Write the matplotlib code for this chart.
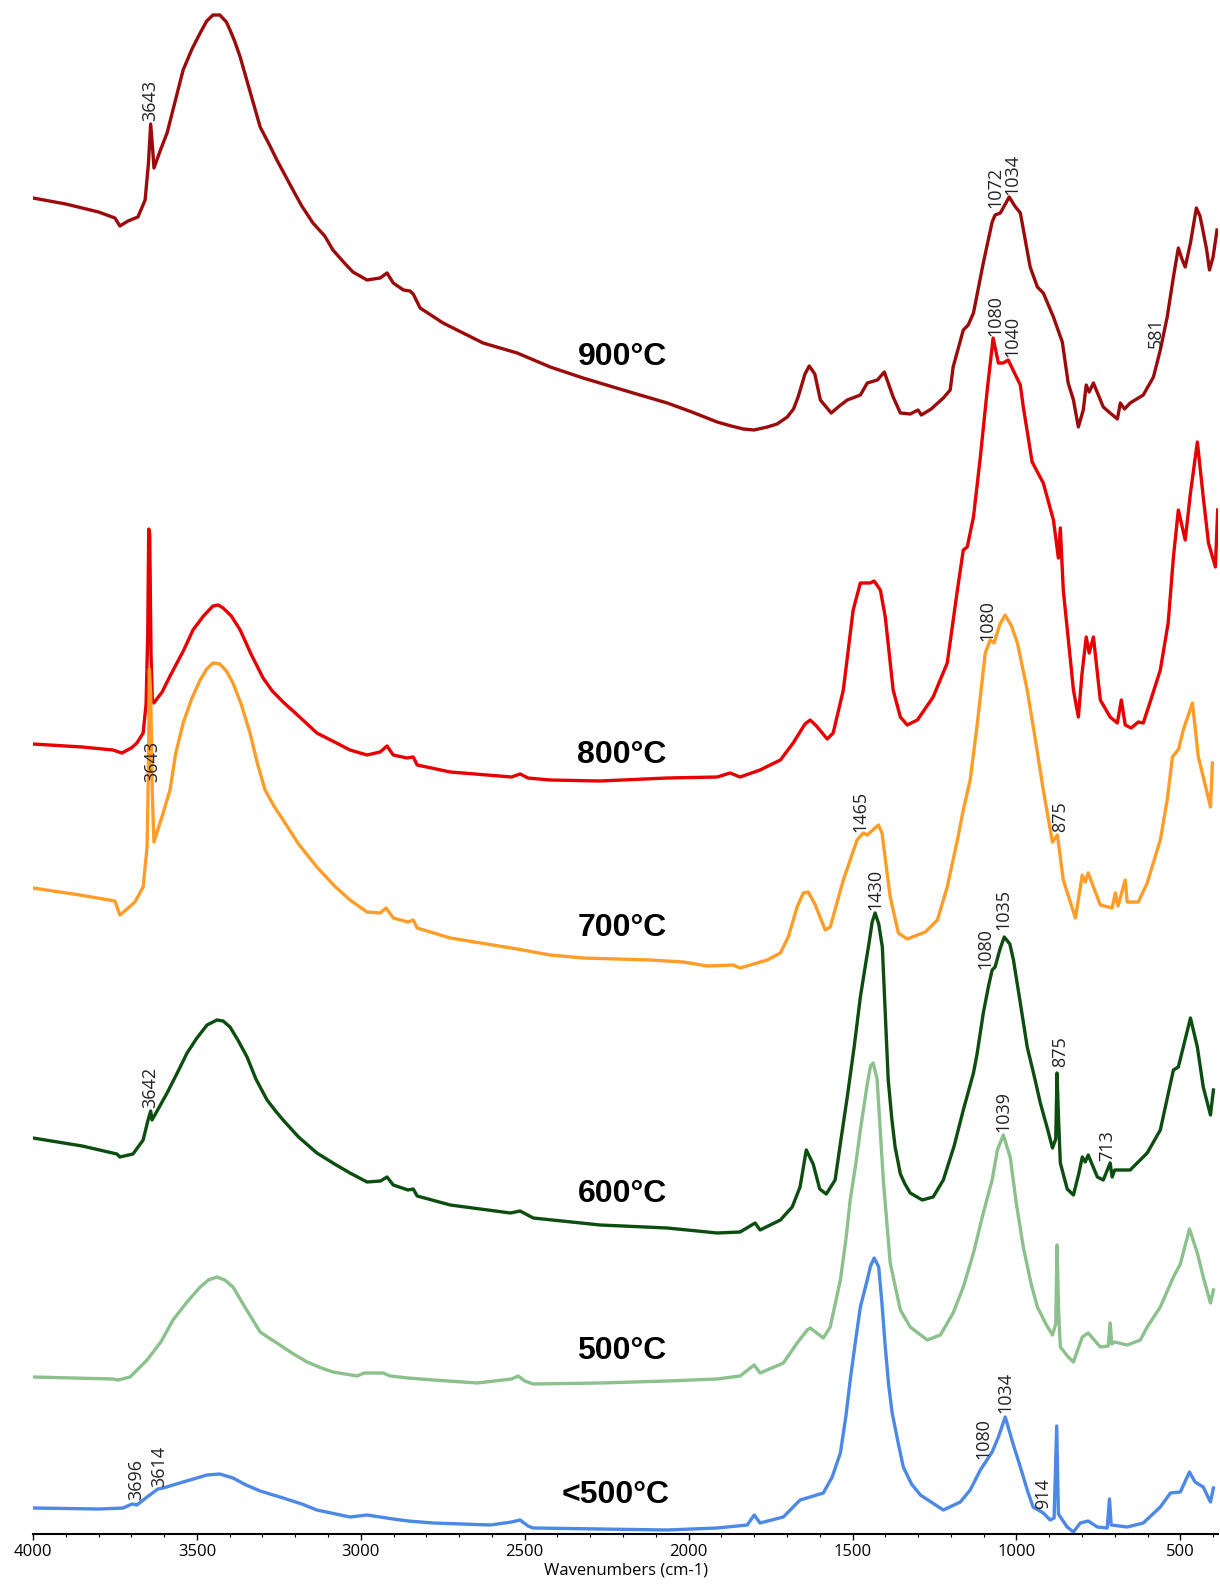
import matplotlib
matplotlib.use("Agg")
import matplotlib.pyplot as plt
from matplotlib.ticker import MultipleLocator

plt.rcParams['font.family'] = ['Open Sans', 'DejaVu Sans']

# spectra: (wavenumber, stacked absorbance in plot units)
spec_900 = [(4000, 1336), (3900, 1330), (3850, 1326), (3800, 1322), (3750, 1316), (3735, 1308), (3710, 1313),
            (3680, 1317), (3658, 1334), (3648, 1370), (3641, 1410), (3635, 1385), (3631, 1366), (3610, 1385),
            (3591, 1401), (3573, 1424), (3542, 1464), (3515, 1485), (3490, 1501), (3470, 1513), (3451, 1519),
            (3430, 1519), (3410, 1512), (3399, 1504), (3385, 1493), (3368, 1477), (3340, 1445), (3307, 1407),
            (3280, 1390), (3256, 1374), (3230, 1358), (3207, 1344), (3180, 1328), (3146, 1311), (3110, 1298),
            (3085, 1284), (3050, 1271), (3024, 1262), (2981, 1254), (2941, 1256), (2920, 1261), (2901, 1251),
            (2870, 1244), (2850, 1243), (2840, 1240), (2819, 1226), (2749, 1211), (2700, 1203), (2627, 1191),
            (2523, 1181), (2422, 1167), (2322, 1156), (2169, 1141), (2065, 1131), (1990, 1122), (1913, 1112),
            (1870, 1108), (1833, 1105), (1800, 1104), (1760, 1107), (1730, 1110), (1699, 1117), (1680, 1125),
            (1666, 1137), (1645, 1160), (1632, 1168), (1615, 1160), (1598, 1134), (1565, 1121), (1540, 1128),
            (1516, 1134), (1476, 1139), (1455, 1151), (1424, 1154), (1403, 1162), (1390, 1150), (1376, 1137),
            (1354, 1121), (1324, 1120), (1300, 1124), (1290, 1119), (1260, 1125), (1223, 1136), (1202, 1144),
            (1193, 1167), (1162, 1204), (1147, 1209), (1131, 1221), (1101, 1271), (1074, 1312), (1065, 1319),
            (1049, 1321), (1022, 1337), (1005, 1328), (988, 1321), (958, 1267), (936, 1247), (918, 1241),
            (887, 1217), (860, 1192), (842, 1151), (826, 1134), (811, 1107), (796, 1124), (787, 1149),
            (778, 1142), (765, 1151), (744, 1134), (735, 1127), (714, 1121), (692, 1115), (683, 1131),
            (670, 1125), (653, 1131), (613, 1139), (582, 1157), (561, 1184), (540, 1217), (521, 1257),
            (506, 1286), (495, 1275), (485, 1267), (469, 1291), (451, 1326), (440, 1318), (433, 1307),
            (420, 1285), (411, 1264), (400, 1277), (388, 1304)]

spec_800 = [(4000, 790), (3850, 787), (3756, 784), (3729, 781), (3700, 786), (3683, 791), (3664, 801),
            (3655, 830), (3650, 900), (3647, 1005), (3644, 1000), (3640, 880), (3636, 835), (3631, 831),
            (3620, 836), (3606, 842), (3585, 856), (3561, 871), (3540, 884), (3512, 904), (3480, 918),
            (3451, 928), (3435, 929), (3420, 926), (3395, 918), (3368, 904), (3335, 880), (3298, 856),
            (3270, 843), (3237, 832), (3190, 818), (3134, 801), (3080, 792), (3033, 784), (2981, 779),
            (2941, 782), (2920, 788), (2901, 779), (2859, 776), (2840, 777), (2828, 769), (2727, 762),
            (2540, 757), (2514, 760), (2490, 756), (2422, 754), (2270, 753), (2065, 756), (1913, 757),
            (1873, 761), (1843, 757), (1782, 764), (1720, 774), (1681, 791), (1645, 810), (1629, 814),
            (1610, 808), (1577, 795), (1559, 801), (1528, 844), (1498, 924), (1476, 951), (1446, 951),
            (1434, 953), (1415, 944), (1400, 917), (1376, 844), (1354, 817), (1333, 809), (1302, 814),
            (1254, 837), (1211, 871), (1180, 944), (1162, 984), (1150, 987), (1131, 1017), (1110, 1077),
            (1089, 1144), (1071, 1196), (1055, 1171), (1040, 1171), (1025, 1174), (988, 1149), (979, 1127),
            (952, 1072), (918, 1051), (887, 1014), (872, 976), (866, 1006), (857, 944), (826, 844), (811, 817),
            (800, 860), (787, 897), (778, 881), (765, 897), (744, 834), (714, 817), (692, 811), (680, 834),
            (668, 809), (650, 806), (628, 812), (613, 811), (592, 832), (561, 864), (537, 911), (521, 977),
            (506, 1024), (485, 994), (469, 1041), (448, 1092), (430, 1037), (414, 991), (393, 967), (386, 1024)]

spec_700 = [(4000, 646), (3857, 639), (3750, 633), (3735, 619), (3713, 625), (3689, 632), (3664, 647),
            (3652, 687), (3648, 760), (3645, 865), (3641, 840), (3636, 740), (3631, 692), (3603, 721),
            (3582, 744), (3565, 780), (3542, 811), (3515, 836), (3490, 854), (3470, 865), (3451, 871),
            (3430, 870), (3410, 863), (3390, 851), (3365, 830), (3338, 801), (3315, 770), (3292, 744),
            (3265, 728), (3237, 714), (3190, 690), (3134, 667), (3080, 648), (3033, 634), (2981, 622),
            (2941, 621), (2923, 626), (2901, 616), (2856, 612), (2840, 614), (2828, 606), (2727, 596),
            (2523, 585), (2422, 579), (2322, 576), (2117, 574), (2016, 572), (1943, 568), (1864, 569),
            (1843, 566), (1760, 574), (1720, 581), (1696, 597), (1669, 627), (1650, 641), (1635, 642),
            (1615, 630), (1583, 604), (1568, 607), (1528, 654), (1486, 694), (1467, 701), (1455, 699),
            (1421, 709), (1410, 701), (1385, 637), (1360, 601), (1333, 595), (1278, 602), (1241, 614),
            (1211, 647), (1180, 694), (1162, 724), (1141, 754), (1119, 811), (1095, 881), (1080, 894),
            (1068, 891), (1050, 910), (1034, 919), (1015, 908), (997, 891), (967, 844), (940, 790), (918, 744),
            (890, 692), (875, 699), (857, 654), (820, 616), (799, 659), (790, 652), (781, 661), (744, 629),
            (708, 626), (698, 641), (690, 628), (668, 654), (662, 632), (628, 632), (601, 651), (561, 694),
            (540, 734), (524, 777), (505, 785), (491, 804), (463, 831), (445, 777), (418, 741), (408, 727),
            (402, 771)]

spec_600 = [(4000, 396), (3850, 388), (3744, 380), (3735, 377), (3695, 380), (3664, 394), (3649, 414),
            (3641, 423), (3637, 414), (3630, 418), (3591, 441), (3560, 461), (3530, 481), (3500, 496),
            (3469, 509), (3439, 514), (3420, 513), (3399, 507), (3375, 494), (3347, 477), (3320, 455),
            (3286, 434), (3260, 423), (3237, 414), (3190, 397), (3134, 381), (3080, 370), (3033, 361),
            (2981, 352), (2940, 353), (2920, 357), (2901, 349), (2856, 344), (2840, 345), (2828, 338),
            (2727, 329), (2544, 321), (2514, 323), (2474, 316), (2270, 309), (2065, 306), (1913, 301),
            (1843, 302), (1797, 311), (1782, 304), (1720, 314), (1684, 327), (1660, 347), (1641, 384),
            (1620, 370), (1600, 345), (1580, 340), (1553, 354), (1535, 395), (1516, 437), (1495, 487),
            (1476, 537), (1460, 570), (1450, 590), (1440, 612), (1431, 621), (1420, 610), (1409, 587),
            (1400, 520), (1391, 454), (1380, 415), (1370, 387), (1354, 360), (1340, 350), (1324, 341),
            (1287, 334), (1254, 337), (1223, 354), (1190, 388), (1162, 424), (1131, 461), (1120, 480),
            (1101, 521), (1085, 548), (1074, 564), (1065, 567), (1050, 585), (1037, 597), (1020, 590),
            (1009, 574), (990, 535), (967, 487), (945, 457), (927, 431), (905, 405), (890, 386), (880, 395),
            (876, 461), (872, 420), (866, 371), (845, 345), (826, 339), (810, 360), (799, 377), (790, 372),
            (781, 379), (753, 357), (735, 354), (714, 371), (708, 357), (700, 364), (653, 364), (601, 381),
            (561, 404), (521, 464), (506, 467), (469, 516), (448, 487), (430, 447), (408, 419), (399, 444)]

spec_500 = [(4000, 157), (3756, 155), (3740, 154), (3704, 157), (3652, 174), (3610, 192), (3573, 214),
            (3530, 232), (3490, 247), (3465, 254), (3439, 257), (3415, 254), (3390, 247), (3350, 225),
            (3307, 202), (3280, 196), (3256, 191), (3210, 181), (3164, 172), (3120, 166), (3085, 162),
            (3011, 158), (2990, 161), (2932, 161), (2910, 158), (2856, 156), (2779, 154), (2645, 151),
            (2540, 155), (2520, 158), (2500, 153), (2474, 150), (2270, 151), (2065, 153), (1913, 155),
            (1843, 158), (1800, 169), (1782, 161), (1711, 171), (1669, 191), (1638, 204), (1629, 206),
            (1589, 196), (1568, 207), (1537, 254), (1520, 295), (1507, 334), (1490, 370), (1476, 404),
            (1455, 450), (1445, 468), (1437, 471), (1425, 455), (1406, 354), (1385, 271), (1354, 224),
            (1324, 207), (1272, 194), (1232, 199), (1193, 221), (1162, 247), (1131, 281), (1101, 321),
            (1074, 354), (1058, 384), (1040, 399), (1019, 377), (1000, 330), (979, 287), (955, 250), (936, 227),
            (910, 210), (890, 199), (880, 210), (876, 289), (871, 220), (866, 187), (842, 177), (826, 172),
            (799, 197), (781, 201), (744, 187), (720, 188), (714, 211), (709, 190), (700, 192), (662, 189),
            (622, 194), (601, 207), (561, 227), (521, 257), (500, 270), (472, 305), (448, 281), (430, 257),
            (408, 231), (399, 244)]

spec_lt500 = [(4000, 26), (3796, 25), (3725, 26), (3698, 30), (3683, 29), (3652, 37), (3619, 45), (3603, 46),
              (3542, 52), (3469, 59), (3430, 60), (3390, 56), (3350, 49), (3307, 43), (3237, 36), (3180, 30),
              (3134, 24), (3033, 17), (2981, 19), (2901, 15), (2856, 13), (2779, 11), (2605, 9), (2540, 12),
              (2514, 14), (2490, 8), (2474, 6), (2270, 5), (2065, 4), (1913, 6), (1821, 9), (1800, 19),
              (1782, 11), (1711, 17), (1660, 34), (1629, 37), (1589, 41), (1562, 57), (1537, 81), (1520, 118),
              (1507, 154), (1490, 195), (1476, 227), (1455, 254), (1445, 268), (1434, 276), (1420, 267),
              (1410, 230), (1400, 187), (1390, 150), (1379, 121), (1360, 90), (1345, 67), (1320, 50),
              (1293, 39), (1223, 24), (1171, 32), (1141, 44), (1110, 64), (1074, 82), (1055, 97), (1034, 117),
              (1010, 90), (988, 67), (965, 42), (949, 27), (918, 21), (897, 14), (885, 16), (877, 108), (872, 20),
              (845, 7), (826, 2), (805, 11), (781, 13), (753, 7), (723, 6), (716, 35), (711, 9), (662, 7),
              (613, 11), (561, 27), (530, 41), (500, 42), (472, 62), (455, 52), (430, 47), (408, 32), (399, 46)]

series = [
    ("900°C", spec_900, "#9B0B0B", (2203, 1177)),
    ("800°C", spec_800, "#E80000", (2203, 779)),
    ("700°C", spec_700, "#FF9D28", (2203, 606)),
    ("600°C", spec_600, "#0C4D10", (2203, 340)),
    ("500°C", spec_500, "#8CC08C", (2203, 183)),
    ("<500°C", spec_lt500, "#4C88E6", (2224, 39)),
]

# peak annotations: (text, wavenumber, height)
peak_labels = [
    ("3643", 3643, 1434), ("1072", 1064, 1347), ("1034", 1013, 1360),
    ("1080", 1064, 1218), ("1040", 1013, 1198), ("581", 576, 1201),
    ("3643", 3637, 773), ("1080", 1089, 913), ("1465", 1476, 723), ("875", 866, 717),
    ("1430", 1431, 645), ("1080", 1095, 585), ("1035", 1040, 624), ("875", 866, 482),
    ("3642", 3643, 447), ("1039", 1040, 423), ("713", 723, 388),
    ("3696", 3686, 54), ("3614", 3616, 68), ("1080", 1101, 95), ("1034", 1034, 142), ("914", 918, 40),
]

fig = plt.figure(figsize=(12.2, 15.85), dpi=100)
ax = fig.add_axes([33 / 1220, 51 / 1585, 1185 / 1220, 1534 / 1585])

for name, spec, color, (tx, ty) in series:
    wn = [p[0] for p in spec]
    ab = [p[1] for p in spec]
    ax.plot(wn, ab, color=color, lw=2.4, solid_joinstyle='round')
    ax.text(tx, ty, name, ha='center', va='center', fontsize=23, fontweight='bold',
            family=['Liberation Sans', 'DejaVu Sans'], color='black')

for txt, x, y in peak_labels:
    ax.text(x, y, txt, rotation=90, ha='center', va='center', fontsize=13, color='#222222')

ax.set_xlim(4000, 385)
ax.set_ylim(0, 1534)
ax.xaxis.set_minor_locator(MultipleLocator(100))
ax.set_xticks([4000, 3500, 3000, 2500, 2000, 1500, 1000, 500])
ax.tick_params(axis='x', which='major', length=4, width=1, pad=3, labelsize=12)
ax.tick_params(axis='x', which='minor', length=2.5, width=0.8)
ax.set_yticks([])
for side in ['top', 'right', 'left']:
    ax.spines[side].set_visible(False)
ax.spines['bottom'].set_linewidth(1.5)
ax.set_xlabel('Wavenumbers (cm-1)', fontsize=12, labelpad=2)
ax.patch.set_alpha(0)

fig.savefig('out.png', dpi=100)
